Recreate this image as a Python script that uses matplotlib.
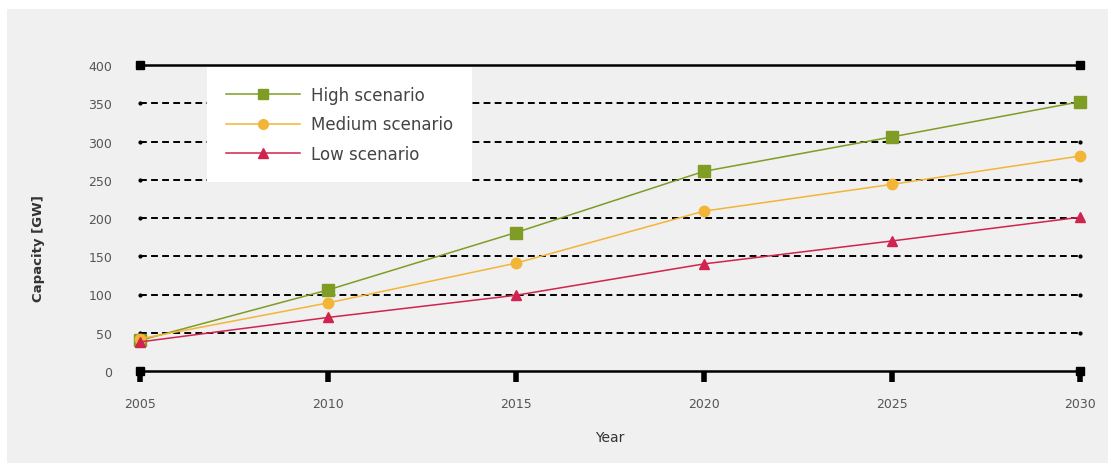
import numpy as np
import matplotlib
matplotlib.use('Agg')
from matplotlib import pyplot as plt
from matplotlib.patches import Rectangle

# Data
years = [2005, 2010, 2015, 2020, 2025, 2030]
high = [40, 106, 181, 261, 306, 352]
medium = [42, 89, 141, 209, 244, 281]
low = [38, 70, 99, 140, 170, 201]
yticks = [0, 50, 100, 150, 200, 250, 300, 350, 400]

green = '#7f9c25'
orange = '#f2b536'
red = '#d1234f'
panel = '#f0f0f0'

plt.rcParams['font.family'] = 'DejaVu Sans'

fig = plt.figure(figsize=(11.14, 4.64), dpi=100)
fig.patch.set_facecolor('white')
# grey panel behind the chart
fig.patches.append(Rectangle((7 / 1114, 0), 1101 / 1114, 454 / 464,
                             transform=fig.transFigure, facecolor=panel,
                             edgecolor='none', zorder=-10))

ax = fig.add_axes([140 / 1114, 92 / 464, 940 / 1114, 306 / 464])
ax.set_facecolor('none')

# dashed grid lines
for y in yticks[1:-1]:
    ax.plot([years[0], years[-1]], [y, y], color='black', lw=1.4,
            ls=(0, (3.5, 2.2)), zorder=1)
    ax.plot([years[0], years[-1]], [y, y], ls='none', marker='.',
            color='black', ms=4, zorder=1, clip_on=False)

ax.plot(years, high, color=green, lw=1.1, marker='s', ms=9,
        label='High scenario', zorder=3, clip_on=False)
ax.plot(years, medium, color=orange, lw=1.1, marker='o', ms=7.5,
        label='Medium scenario', zorder=3, clip_on=False)
ax.plot(years, low, color=red, lw=1.1, marker='^', ms=6.5,
        label='Low scenario', zorder=3, clip_on=False)

ax.set_xlim(years[0], years[-1])
ax.set_ylim(0, 400)
ax.set_xticks(years)
ax.set_yticks(yticks)

for side in ['left', 'right']:
    ax.spines[side].set_visible(False)
for side in ['top', 'bottom']:
    ax.spines[side].set_linewidth(1.8)

ax.tick_params(axis='x', direction='out', length=8, width=4,
               labelsize=9, labelcolor='#555555', pad=11)
ax.tick_params(axis='y', length=0, labelsize=9, labelcolor='#555555', pad=20)

# corner blocks
for x in [years[0], years[-1]]:
    for y in [0, 400]:
        ax.plot(x, y, marker='s', color='black', ms=6, clip_on=False, zorder=4)

ax.set_xlabel('Year', fontsize=10, color='#333333', labelpad=14)
ax.set_ylabel('Capacity [GW]', fontsize=9.5, color='#333333',
              fontweight='semibold')
ax.yaxis.set_label_coords(-0.101, 0.405)

leg = ax.legend(loc='upper left', bbox_to_anchor=(67 / 940, 0.995),
                frameon=True, fontsize=12, handlelength=4.4,
                borderpad=1.15, labelspacing=0.7, handletextpad=0.7,
                borderaxespad=0.0, fancybox=False)
leg.get_frame().set_facecolor('white')
leg.get_frame().set_edgecolor('none')
leg.get_frame().set_alpha(1)
for t in leg.get_texts():
    t.set_color('#444444')
for h in leg.legend_handles:
    h.set_markersize(7)

fig.savefig('out.png', dpi=100)
